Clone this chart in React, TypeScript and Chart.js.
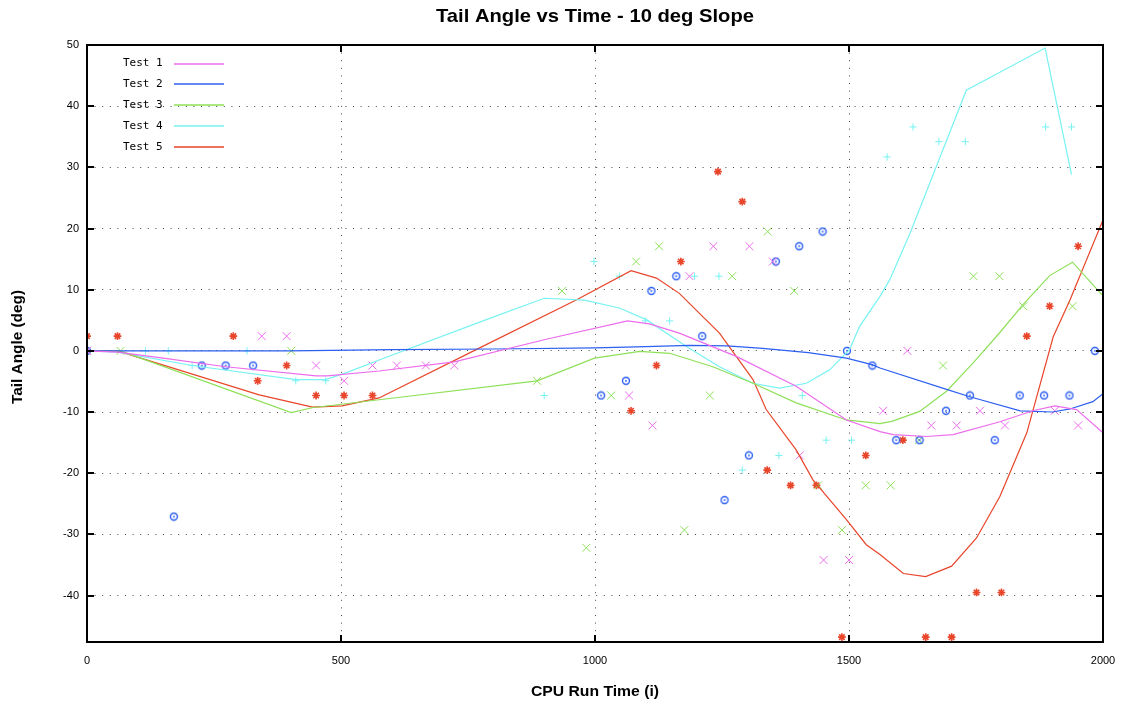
import React, { useEffect, useRef } from "react";
import { Chart, registerables } from "chart.js";

Chart.register(...registerables);

const TITLE = "Tail Angle vs Time - 10 deg Slope";
const X_TITLE = "CPU Run Time (i)";
const Y_TITLE = "Tail Angle (deg)";
const SERIES_NAMES = ["Test 1", "Test 2", "Test 3", "Test 4", "Test 5"];
const SERIES_COLORS = ["#ec6cec", "#2d5ff0", "#8ee058", "#78f2f2", "#e8452a"];
const X_TICKS = [0, 500, 1000, 1500, 2000];
const Y_TICKS = [-40, -30, -20, -10, 0, 10, 20, 30, 40, 50];
const Y_MIN = -47.6;
const Y_MAX = 50;

// Test 1 (smoothed curve + raw samples)
const test1LineX = [0, 60, 150, 273, 451, 473, 575, 723, 904, 1064, 1107, 1166, 1278, 1396, 1495, 1561, 1587, 1653, 1705, 1797, 1862, 1905, 1948, 2000];
const test1LineY = [0, -0.2, -1.2, -2.6, -4.1, -4.1, -3.3, -1.8, 1.9, 4.9, 4.4, 2.9, -0.9, -5.8, -11.3, -13.2, -13.7, -14.0, -13.7, -11.6, -9.8, -9.0, -9.6, -13.4];
const test1PtsX = [0, 344, 393, 451, 506, 562, 610, 667, 723, 1067, 1113, 1186, 1233, 1304, 1350, 1403, 1450, 1500, 1567, 1615, 1662, 1712, 1758, 1807, 1905, 1951];
const test1PtsY = [0, 2.4, 2.4, -2.4, -4.9, -2.4, -2.4, -2.4, -2.4, -7.3, -12.2, 12.2, 17.1, 17.1, 14.6, -17.1, -34.2, -34.2, -9.8, 0, -12.2, -12.2, -9.8, -12.2, -9.8, -12.2];

// Test 2
const test2LineX = [0, 400, 600, 800, 1000, 1100, 1186, 1260, 1330, 1420, 1495, 1547, 1561, 1692, 1738, 1837, 1901, 1935, 1980, 2000];
const test2LineY = [0, 0, 0.2, 0.3, 0.5, 0.7, 0.9, 0.8, 0.4, -0.3, -1.2, -2.3, -2.8, -6.3, -7.5, -9.8, -10.0, -9.5, -8.3, -7.0];
const test2PtsX = [0, 171, 226, 273, 327, 1012, 1061, 1111, 1160, 1211, 1255, 1303, 1356, 1402, 1448, 1496, 1546, 1593, 1639, 1691, 1738, 1787, 1836, 1884, 1934, 1984];
const test2PtsY = [0, -27.1, -2.4, -2.4, -2.4, -7.3, -4.9, 9.8, 12.2, 2.4, -24.4, -17.1, 14.6, 17.1, 19.5, 0, -2.4, -14.6, -14.6, -9.8, -7.3, -14.6, -7.3, -7.3, -7.3, 0];

// Test 3
const test3LineX = [0, 66, 402, 443, 575, 886, 999, 1088, 1147, 1232, 1311, 1396, 1495, 1561, 1586, 1639, 1692, 1744, 1797, 1843, 1895, 1940, 2000];
const test3LineY = [0, 0, -10.1, -9.3, -8.0, -4.9, -1.2, -0.1, -0.4, -2.6, -5.3, -8.5, -11.3, -11.9, -11.5, -9.9, -6.6, -2.0, 3.0, 7.6, 12.3, 14.5, 9.0];
const test3PtsX = [0, 66, 402, 886, 935, 983, 1032, 1081, 1126, 1176, 1226, 1270, 1340, 1392, 1439, 1486, 1533, 1582, 1638, 1685, 1745, 1796, 1843, 1940];
const test3PtsY = [0, 0, 0, -4.9, 9.8, -32.2, -7.3, 14.6, 17.1, -29.3, -7.3, 12.2, 19.5, 9.8, -22.0, -29.3, -22.0, -22.0, -14.6, -2.4, 12.2, 12.2, 7.3, 7.3];

// Test 4
const test4LineX = [0, 60, 207, 411, 470, 516, 575, 786, 900, 979, 1048, 1101, 1180, 1245, 1311, 1363, 1416, 1462, 1501, 1521, 1561, 1580, 1620, 1731, 1886, 1938];
const test4LineY = [0, -0.2, -2.4, -4.7, -4.7, -3.4, -1.5, 5.1, 8.6, 8.3, 7.0, 5.1, 0.7, -2.6, -5.3, -6.1, -5.3, -3.1, 0.2, 4.0, 8.9, 11.6, 19.2, 42.6, 49.5, 28.8];
const test4PtsX = [0, 115, 160, 207, 315, 411, 470, 900, 998, 1048, 1099, 1147, 1196, 1244, 1290, 1362, 1408, 1455, 1505, 1575, 1626, 1677, 1729, 1887, 1938];
const test4PtsY = [0, 0, 0, -2.4, 0, -4.9, -4.9, -7.3, 14.6, 12.2, 4.9, 4.9, 12.2, 12.2, -19.5, -17.1, -7.3, -14.6, -14.6, 31.7, 36.6, 34.2, 34.2, 36.6, 36.6];

// Test 5
const test5LineX = [0, 60, 339, 444, 502, 575, 766, 963, 1071, 1121, 1166, 1245, 1278, 1311, 1337, 1396, 1429, 1495, 1534, 1561, 1607, 1651, 1702, 1751, 1797, 1850, 1902, 1935, 2000];
const test5LineY = [0, 0, -7.2, -9.2, -9.0, -7.7, 0.2, 8.3, 13.1, 11.9, 9.4, 2.9, -0.9, -4.7, -9.6, -16.2, -21.1, -27.6, -31.7, -33.3, -36.4, -36.9, -35.2, -30.6, -23.8, -13.4, 2.3, 8.3, 21.4];
const test5PtsX = [0, 60, 288, 336, 393, 451, 506, 562, 1071, 1121, 1169, 1242, 1290, 1339, 1385, 1436, 1486, 1533, 1606, 1651, 1702, 1751, 1800, 1850, 1895, 1951];
const test5PtsY = [2.4, 2.4, 2.4, -4.9, -2.4, -7.3, -7.3, -7.3, -9.8, -2.4, 14.6, 29.3, 24.4, -19.5, -22.0, -22.0, -46.8, -17.1, -14.6, -46.8, -46.8, -39.5, -39.5, 2.4, 7.3, 17.1];

const LINES = [
  [test1LineX, test1LineY],
  [test2LineX, test2LineY],
  [test3LineX, test3LineY],
  [test4LineX, test4LineY],
  [test5LineX, test5LineY],
];
const POINTS = [
  [test1PtsX, test1PtsY],
  [test2PtsX, test2PtsY],
  [test3PtsX, test3PtsY],
  [test4PtsX, test4PtsY],
  [test5PtsX, test5PtsY],
];

function zip(xs: number[], ys: number[]) {
  return xs.map((x, i) => ({ x, y: ys[i] }));
}

function makeCircleDot(color: string) {
  const c = document.createElement("canvas");
  c.width = 10;
  c.height = 10;
  const g = c.getContext("2d")!;
  g.strokeStyle = color;
  g.lineWidth = 1.4;
  g.beginPath();
  g.arc(5, 5, 3.5, 0, Math.PI * 2);
  g.stroke();
  g.fillStyle = color;
  g.beginPath();
  g.arc(5, 5, 0.9, 0, Math.PI * 2);
  g.fill();
  return c;
}

// draw text horizontally fitted to a target width (condensed gnuplot look)
function fitText(ctx: CanvasRenderingContext2D, text: string, x: number, y: number, width: number, rot = 0) {
  const w = ctx.measureText(text).width;
  ctx.save();
  ctx.translate(x, y);
  if (rot) ctx.rotate(rot);
  ctx.scale(width / w, 1);
  ctx.fillText(text, 0, 0);
  ctx.restore();
}

const decorPlugin = {
  id: "gnuplotDecor",
  afterDraw(chart: any) {
    const { ctx, chartArea } = chart;
    const { left, right, top, bottom } = chartArea;
    const xs = chart.scales.x;
    const ys = chart.scales.y;
    ctx.save();
    ctx.setLineDash([]);
    // frame
    ctx.strokeStyle = "#000";
    ctx.lineWidth = 2;
    ctx.strokeRect(left, top, right - left, bottom - top);
    // inward tick marks
    ctx.beginPath();
    X_TICKS.forEach((t) => {
      const px = Math.round(xs.getPixelForValue(t));
      ctx.moveTo(px, bottom);
      ctx.lineTo(px, bottom - 7);
      ctx.moveTo(px, top);
      ctx.lineTo(px, top + 7);
    });
    Y_TICKS.forEach((t) => {
      const py = Math.round(ys.getPixelForValue(t));
      ctx.moveTo(left, py);
      ctx.lineTo(left + 7, py);
      ctx.moveTo(right, py);
      ctx.lineTo(right - 7, py);
    });
    ctx.stroke();

    // title
    ctx.fillStyle = "#000";
    ctx.textAlign = "center";
    ctx.textBaseline = "middle";
    ctx.font = 'bold 19px "Liberation Sans"';
    fitText(ctx, TITLE, (left + right) / 2, 17, 318);
    // x axis title
    ctx.font = 'bold 14px "Liberation Sans"';
    fitText(ctx, X_TITLE, (left + right) / 2, 692, 128);
    // y axis title
    fitText(ctx, Y_TITLE, 18, 347, 114, -Math.PI / 2);

    // legend
    ctx.font = '11px "DejaVu Sans Mono"';
    ctx.textAlign = "left";
    ctx.textBaseline = "middle";
    SERIES_NAMES.forEach((name, i) => {
      const y = 63.5 + i * 20.9;
      ctx.fillStyle = "#000";
      ctx.fillText(name, 123, y);
      ctx.setLineDash([]);
      ctx.strokeStyle = SERIES_COLORS[i];
      ctx.lineWidth = 1.5;
      ctx.beginPath();
      ctx.moveTo(174, Math.round(y));
      ctx.lineTo(224, Math.round(y));
      ctx.stroke();
    });
    ctx.restore();
  },
};

export default function App() {
  const ref = useRef<HTMLCanvasElement | null>(null);

  useEffect(() => {
    document.body.style.margin = "0";
    const canvas = ref.current!;
    const markerStyles: any[] = [
      "crossRot",
      makeCircleDot(SERIES_COLORS[1]),
      "crossRot",
      "cross",
      "star",
    ];
    const markerRadius = [5.6, 4, 5.6, 3.6, 3.9];
    const markerWidth = [1, 1, 1, 1, 1.6];
    const datasets: any[] = [];
    LINES.forEach(([lx, ly], i) => {
      datasets.push({
        type: "line",
        label: SERIES_NAMES[i],
        data: zip(lx, ly),
        borderColor: SERIES_COLORS[i],
        backgroundColor: SERIES_COLORS[i],
        borderWidth: 1.2,
        pointRadius: 0,
        tension: 0,
        fill: false,
      });
    });
    POINTS.forEach(([px, py], i) => {
      datasets.push({
        type: "line",
        label: SERIES_NAMES[i] + " samples",
        data: zip(px, py),
        showLine: false,
        pointStyle: markerStyles[i],
        pointRadius: markerRadius[i],
        pointBorderWidth: markerWidth[i],
        pointBorderColor: SERIES_COLORS[i],
        pointBackgroundColor: "rgba(0,0,0,0)",
        borderColor: SERIES_COLORS[i],
      });
    });

    const chart = new Chart(canvas, {
      type: "line",
      data: { datasets },
      plugins: [decorPlugin],
      options: {
        animation: false,
        responsive: false,
        maintainAspectRatio: false,
        events: [],
        layout: { padding: { top: 45, right: 19, bottom: 0, left: 0 } },
        plugins: {
          legend: { display: false },
          title: { display: false },
          tooltip: { enabled: false },
        },
        scales: {
          x: {
            type: "linear",
            min: 0,
            max: 2000,
            afterBuildTicks: (s: any) => {
              s.ticks = X_TICKS.map((v) => ({ value: v }));
            },
            afterFit: (s: any) => {
              s.height = 69;
              s.paddingLeft = 0;
              s.paddingRight = 0;
            },
            ticks: {
              color: "#000",
              font: { family: "Liberation Sans", size: 11 },
              padding: 12,
              maxRotation: 0,
              callback: (v: any) => String(v),
            },
            grid: { color: "#444", lineWidth: 1, drawTicks: false },
            border: { display: false, dash: [1, 6.6] },
          },
          y: {
            type: "linear",
            min: Y_MIN,
            max: Y_MAX,
            afterBuildTicks: (s: any) => {
              s.ticks = Y_TICKS.map((v) => ({ value: v }));
            },
            afterFit: (s: any) => {
              s.width = 87;
              s.paddingTop = 0;
              s.paddingBottom = 0;
            },
            ticks: {
              color: "#000",
              font: { family: "Liberation Sans", size: 11 },
              padding: 8,
              callback: (v: any) => String(v),
            },
            grid: { color: "#444", lineWidth: 1, drawTicks: false },
            border: { display: false, dash: [1, 6.6] },
          },
        },
      },
    });
    return () => chart.destroy();
  }, []);

  return (
    <div style={{ position: "absolute", left: 0, top: 0, width: 1122, height: 711, background: "#fff" }}>
      <canvas ref={ref} width={1122} height={711} style={{ width: 1122, height: 711, display: "block" }} />
    </div>
  );
}
